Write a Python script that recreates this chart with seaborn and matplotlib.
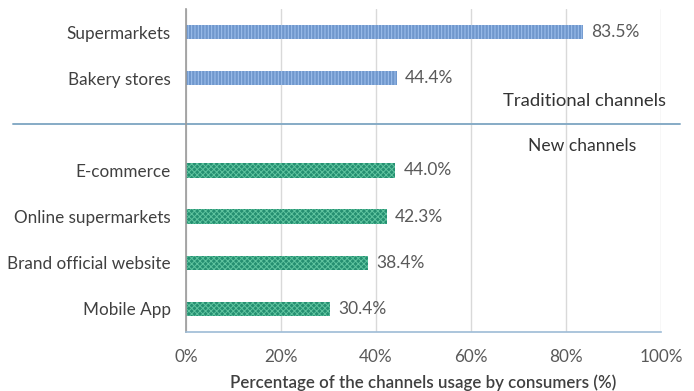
import numpy as np
import pandas as pd
import matplotlib
matplotlib.use("Agg")
import matplotlib.pyplot as plt
import matplotlib.transforms as mtransforms
import seaborn as sns

# Channel usage data
traditional_channels = ["Supermarkets", "Bakery stores"]
traditional_values = [83.5, 44.4]
new_channels = ["E-commerce", "Online supermarkets", "Brand official website", "Mobile App"]
new_values = [44.0, 42.3, 38.4, 30.4]
group_names = ["Traditional channels", "New channels"]
x_ticks = [0, 20, 40, 60, 80, 100]
x_label = "Percentage of the channels usage by consumers (%)"

df = pd.DataFrame({
    "channel": traditional_channels + new_channels,
    "value": traditional_values + new_values,
    "group": [group_names[0]] * len(traditional_channels) + [group_names[1]] * len(new_channels),
})
# an empty slot separates the two groups
order = traditional_channels + [" "] + new_channels

sns.set_theme(style="white")
plt.rcParams["font.family"] = ["Lato", "DejaVu Sans"]
plt.rcParams["hatch.linewidth"] = 0.7

fig = plt.figure(figsize=(6.94, 3.91), dpi=100)
ax = fig.add_axes([0.268, 0.151, 0.6845, 0.826])

palette = {group_names[0]: "#5f95dc", group_names[1]: "#14a078"}
sns.barplot(data=df, y="channel", x="value", hue="group", order=order,
            palette=palette, dodge=False, width=0.31, legend=False,
            linewidth=0, ax=ax)

hatch_styles = {0: ("|||||", "#9fc1ee"), 1: ("xxxxxx", "#5fc49f")}
for i, cont in enumerate(ax.containers):
    hatch, hc = hatch_styles[i]
    for bar in cont:
        bar.set_hatch(hatch)
        bar.set_edgecolor(hc)
        bar.set_linewidth(0)

text_color = "#595959"
for _, row in df.iterrows():
    ypos = order.index(row["channel"])
    ax.annotate(f"{row['value']:.1f}%", (row["value"], ypos),
                xytext=(6, 0), textcoords="offset points",
                va="center", ha="left", fontsize=12.5, color=text_color)

ax.set_xlim(0, 100)
ax.set_ylim(len(order) - 0.5, -0.5)
ax.set_xticks(x_ticks)
ax.set_xticklabels([f"{t}%" for t in x_ticks])
ax.set_ylabel("")
ax.set_xlabel(x_label, fontsize=12.2, fontweight="semibold", color="#404040", labelpad=7)

ax.grid(axis="x", color="#d9d9d9", linewidth=1)
ax.grid(axis="y", visible=False)
ax.set_axisbelow(True)
for side in ["top", "right"]:
    ax.spines[side].set_visible(False)
ax.spines["left"].set_color("#9a9a9a")
ax.spines["left"].set_linewidth(1.2)
ax.spines["bottom"].set_color("#9dbbd6")
ax.spines["bottom"].set_linewidth(1.2)
ax.tick_params(axis="y", length=0, pad=11, labelsize=12.3, labelcolor="#404040")
ax.tick_params(axis="x", direction="in", length=5, color="#b0c8dc", pad=12,
               labelsize=12.3, labelcolor=text_color)

# divider between the two channel groups
trans = mtransforms.blended_transform_factory(fig.transFigure, ax.transData)
sep = order.index(" ")
ax.plot([13 / 694, 680 / 694], [sep, sep], transform=trans, clip_on=False,
        color="#86abc6", linewidth=1.4)
ax.text(666 / 694, sep - 0.5, group_names[0], transform=trans, ha="right",
        va="center", fontsize=13.3, color="#333333")
ax.text(582 / 694, sep + 0.46, group_names[1], transform=trans, ha="center",
        va="center", fontsize=12.6, color="#333333")

fig.savefig("out.png", dpi=100)
